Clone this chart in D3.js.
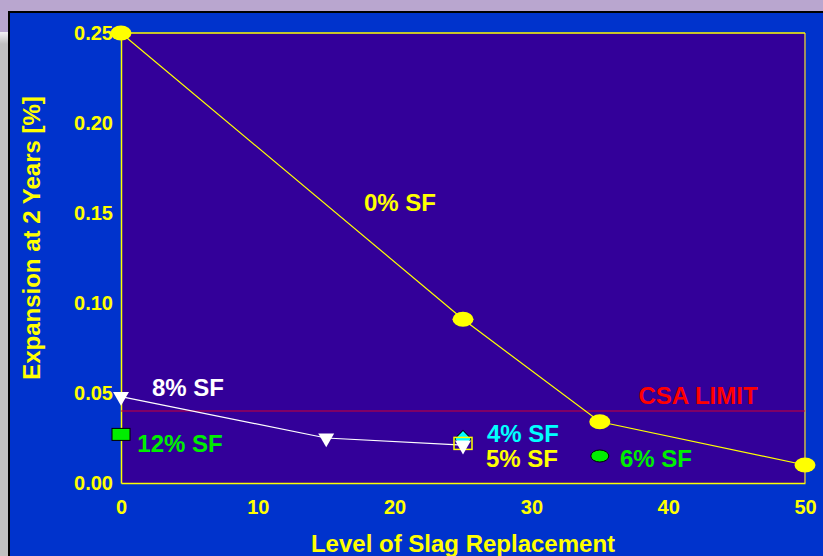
<!DOCTYPE html>
<html><head><meta charset="utf-8">
<script src="https://cdn.jsdelivr.net/npm/d3@7"></script>
<style>body{margin:0;padding:0;overflow:hidden;} svg{display:block;}</style>
</head><body>
<svg id="c" width="823" height="556"></svg>
<script>
const xTicks = [0, 10, 20, 30, 40, 50];
const yTicks = [0, 0.05, 0.10, 0.15, 0.20, 0.25];
const sf0X = [0, 25, 35, 50];
const sf0Y = [0.250, 0.091, 0.034, 0.010];
const sf8X = [0, 15, 25];
const sf8Y = [0.048, 0.025, 0.021];
const sf4 = [25, 0.0245];
const sf5 = [25, 0.022];
const sf6 = [35, 0.015];
const sf12 = [0, 0.027];
const csaLimit = 0.04;

const svg = d3.select("#c");
const W = 823, H = 556;
const font = "Arial, 'Liberation Sans', sans-serif";

// page background
svg.append("rect").attr("width", W).attr("height", H).attr("fill", "#b9a6cf");
const g = svg.append("defs").append("linearGradient").attr("id","lg").attr("x1",0).attr("x2",0).attr("y1",0).attr("y2",1);
g.append("stop").attr("offset","0%").attr("stop-color","#f2f0f4");
g.append("stop").attr("offset","100%").attr("stop-color","#c0c0c0");
svg.append("rect").attr("x",0).attr("y",32).attr("width",9).attr("height",12).attr("fill","url(#lg)");
svg.append("rect").attr("x",0).attr("y",44).attr("width",9).attr("height",H-44).attr("fill","#c0c0c0");
svg.append("rect").attr("x",8).attr("y",11).attr("width",W-8).attr("height",H-11).attr("fill","#000000");
svg.append("rect").attr("x",10).attr("y",13).attr("width",W-10).attr("height",H-13).attr("fill","#0033cc");

const x = d3.scaleLinear().domain([0, 50]).range([121, 805]);
const y = d3.scaleLinear().domain([0, 0.25]).range([483, 33]);

// plot area
svg.append("rect").attr("x", x(0)).attr("y", y(0.25)).attr("width", x(50)-x(0)).attr("height", y(0)-y(0.25)).attr("fill", "#330099");
svg.append("line").attr("x1", x(50)).attr("x2", x(50)).attr("y1", y(0.25)).attr("y2", y(0)).attr("stroke", "#a09060").attr("stroke-width", 2);
svg.append("line").attr("x1", x(0)).attr("x2", x(50)).attr("y1", y(0.25)).attr("y2", y(0.25)).attr("stroke", "#ffff00").attr("stroke-width", 1.5);

// axes
const xAxis = svg.append("g").attr("transform", `translate(0,${y(0)})`)
  .call(d3.axisBottom(x).tickValues(xTicks).tickSize(0).tickPadding(17).tickFormat(d3.format("d")));
const yAxis = svg.append("g").attr("transform", `translate(${x(0)},0)`)
  .call(d3.axisLeft(y).tickValues(yTicks).tickSize(0).tickPadding(8).tickFormat(d3.format(".2f")));
[xAxis, yAxis].forEach(a => {
  a.select(".domain").attr("stroke", "#ffff00").attr("stroke-width", 1.5);
  a.selectAll("text").attr("fill", "#ffff00").attr("font-family", font).attr("font-weight", "bold").attr("font-size", "20px");
});

// CSA limit
svg.append("line").attr("x1", x(0)).attr("x2", x(50)).attr("y1", y(csaLimit)).attr("y2", y(csaLimit)).attr("stroke", "#cc0033").attr("stroke-width", 1);

// lines
const line = d3.line().x(d => x(d[0])).y(d => y(d[1]));
const s0 = sf0X.map((v, i) => [v, sf0Y[i]]);
const s8 = sf8X.map((v, i) => [v, sf8Y[i]]);
svg.append("path").datum(s0).attr("d", line).attr("fill", "none").attr("stroke", "#ffff00").attr("stroke-width", 1.2);
svg.append("path").datum(s8).attr("d", line).attr("fill", "none").attr("stroke", "#ffffff").attr("stroke-width", 1.2);

// 12% SF green square
svg.append("rect").attr("x", x(sf12[0]) - 9).attr("y", y(sf12[1]) - 6).attr("width", 18).attr("height", 12)
  .attr("fill", "#00ee00").attr("stroke", "#000").attr("stroke-width", 1);
// 6% SF green ellipse
svg.append("ellipse").attr("cx", x(sf6[0])).attr("cy", y(sf6[1])).attr("rx", 9).attr("ry", 6)
  .attr("fill", "#00ee00").attr("stroke", "#000").attr("stroke-width", 1);
// 4% SF cyan diamond
svg.append("path").attr("d", d3.symbol().type(d3.symbolSquare).size(144)())
  .attr("transform", `translate(${x(sf4[0])},${y(sf4[1])}) rotate(45)`)
  .attr("fill", "#00ffff").attr("stroke", "#000").attr("stroke-width", 1);
// 5% SF yellow square outline
svg.append("rect").attr("x", x(sf5[0]) - 9).attr("y", y(sf5[1]) - 6).attr("width", 18).attr("height", 12)
  .attr("fill", "none").attr("stroke", "#ffff00").attr("stroke-width", 1.5);
// 8% SF triangles (down)
const tri = d3.symbol().type(d3.symbolTriangle).size(110)();
svg.selectAll(".t8").data(s8).join("path").attr("d", tri)
  .attr("transform", d => `translate(${x(d[0])},${y(d[1])}) rotate(180)`)
  .attr("fill", "#ffffff");
// 0% SF yellow ellipses
svg.selectAll(".e0").data(s0).join("ellipse")
  .attr("cx", d => x(d[0])).attr("cy", d => y(d[1])).attr("rx", 10.5).attr("ry", 7.5).attr("fill", "#ffff00");

// labels
const labels = [
  {t: "0% SF", x: 400, y: 211, c: "#ffff00"},
  {t: "8% SF", x: 188, y: 396, c: "#ffffff"},
  {t: "CSA LIMIT", x: 698, y: 404, c: "#ff0000"},
  {t: "4% SF", x: 523, y: 442, c: "#00ffff"},
  {t: "5% SF", x: 522, y: 467, c: "#ffff00"},
  {t: "6% SF", x: 656, y: 467, c: "#00ee00"},
  {t: "12% SF", x: 180, y: 452, c: "#00ee00"}
];
svg.selectAll(".lbl").data(labels).join("text")
  .attr("x", d => d.x).attr("y", d => d.y).attr("text-anchor", "middle")
  .attr("fill", d => d.c).attr("font-family", font).attr("font-weight", "bold").attr("font-size", "24px")
  .text(d => d.t);

// axis titles
svg.append("text").attr("x", 463).attr("y", 552).attr("text-anchor", "middle")
  .attr("fill", "#ffff00").attr("font-family", font).attr("font-weight", "bold").attr("font-size", "24px")
  .text("Level of Slag Replacement");
svg.append("text").attr("transform", "translate(40,238) rotate(-90)").attr("text-anchor", "middle")
  .attr("fill", "#ffff00").attr("font-family", font).attr("font-weight", "bold").attr("font-size", "24px")
  .text("Expansion at 2 Years [%]");
</script>
</body></html>
